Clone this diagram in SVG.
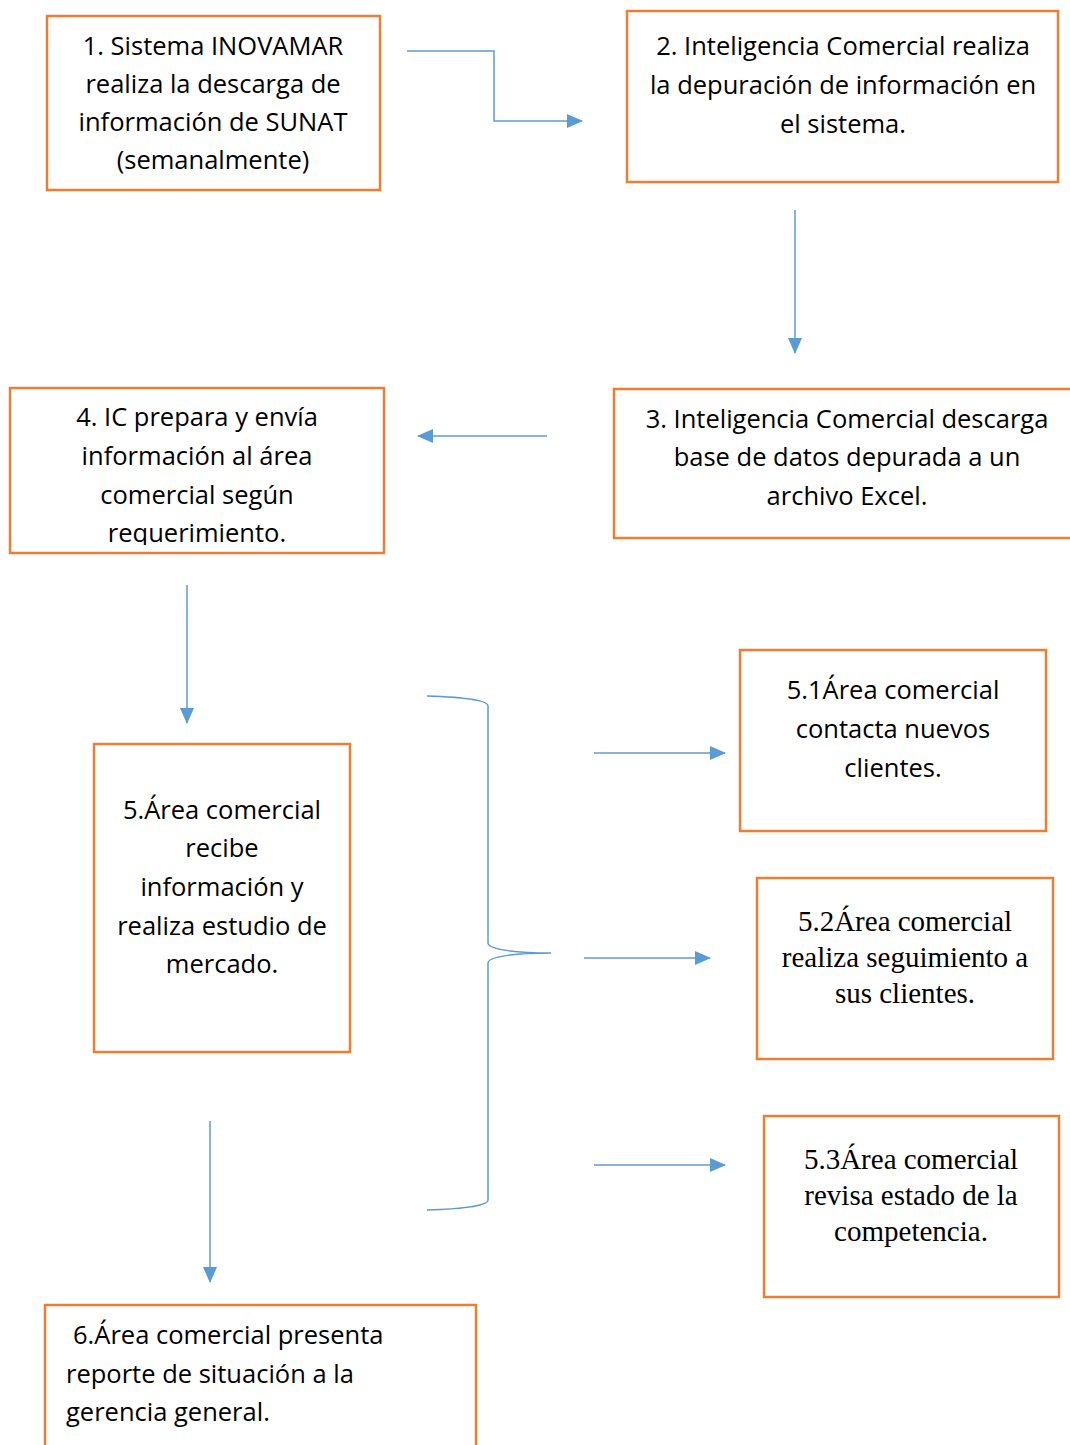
<svg xmlns="http://www.w3.org/2000/svg" width="1070" height="1445" viewBox="0 0 1070 1445">
<style>
.box{fill:#fff;stroke:#ED7D31;stroke-width:2.5}
.t{font-family:"Open Sans","Liberation Sans",sans-serif;font-size:25.5px;fill:#000;text-anchor:middle}
.tl{text-anchor:start}
.s{font-family:"Liberation Serif","Times New Roman",serif;font-size:29px;fill:#000;text-anchor:middle}
.c{fill:none;stroke:#5B9BD5;stroke-width:1.5}
</style>
<defs>
<marker id="a" viewBox="0 0 16 14" refX="15" refY="7" markerWidth="16" markerHeight="14" markerUnits="userSpaceOnUse" orient="auto">
<path d="M0,0 L16,7 L0,14 Z" fill="#5B9BD5"/>
</marker>
<clipPath id="c4"><rect x="10" y="388" width="374" height="157"/></clipPath>
</defs>
<g id="connectors">
<polyline class="c" points="407,51 494,51 494,121 582,121" marker-end="url(#a)"/>
<line class="c" x1="795" y1="210" x2="795" y2="353" marker-end="url(#a)"/>
<line class="c" x1="547" y1="436" x2="418" y2="436" marker-end="url(#a)"/>
<line class="c" x1="187" y1="585" x2="187" y2="723" marker-end="url(#a)"/>
<line class="c" x1="210" y1="1121" x2="210" y2="1282" marker-end="url(#a)"/>
<path class="c" d="M427,696 C460,697 488,700 488,706 L488,943 C488,950 520,953 551,953 C520,953 488,956 488,963 L488,1200 C488,1206 460,1209 427,1210"/>
<line class="c" x1="594" y1="753" x2="725" y2="753" marker-end="url(#a)"/>
<line class="c" x1="584" y1="958" x2="710" y2="958" marker-end="url(#a)"/>
<line class="c" x1="594" y1="1165" x2="725" y2="1165" marker-end="url(#a)"/>
</g>
<g id="n1">
<rect class="box" x="47" y="16" width="333" height="174"/>
<text class="t" x="213" y="55">1. Sistema INOVAMAR</text>
<text class="t" x="213" y="93">realiza la descarga de</text>
<text class="t" x="213" y="131">información de SUNAT</text>
<text class="t" x="213" y="169">(semanalmente)</text>
</g>
<g id="n2">
<rect class="box" x="627" y="11" width="431" height="171"/>
<text class="t" x="843" y="55">2. Inteligencia Comercial realiza</text>
<text class="t" x="843" y="94">la depuración de información en</text>
<text class="t" x="843" y="133">el sistema.</text>
</g>
<g id="n3">
<rect class="box" x="614" y="389" width="470" height="149"/>
<text class="t" x="847" y="428">3. Inteligencia Comercial descarga</text>
<text class="t" x="847" y="466">base de datos depurada a un</text>
<text class="t" x="847" y="505">archivo Excel.</text>
</g>
<g id="n4">
<rect class="box" x="10" y="388" width="374" height="165"/>
<g clip-path="url(#c4)">
<text class="t" x="197" y="426">4. IC prepara y envía</text>
<text class="t" x="197" y="465">información al área</text>
<text class="t" x="197" y="504">comercial según</text>
<text class="t" x="197" y="542">requerimiento.</text>
</g>
</g>
<g id="n5">
<rect class="box" x="94" y="744" width="256" height="308"/>
<text class="t" x="222" y="819">5.Área comercial</text>
<text class="t" x="222" y="857">recibe</text>
<text class="t" x="222" y="896">información y</text>
<text class="t" x="222" y="935">realiza estudio de</text>
<text class="t" x="222" y="973">mercado.</text>
</g>
<g id="n51">
<rect class="box" x="740" y="650" width="306" height="181"/>
<text class="t" x="893" y="699">5.1Área comercial</text>
<text class="t" x="893" y="738">contacta nuevos</text>
<text class="t" x="893" y="777">clientes.</text>
</g>
<g id="n52">
<rect class="box" x="757" y="878" width="296" height="181"/>
<text class="s" x="905" y="931">5.2Área comercial</text>
<text class="s" x="905" y="967">realiza seguimiento a</text>
<text class="s" x="905" y="1003">sus clientes.</text>
</g>
<g id="n53">
<rect class="box" x="764" y="1116" width="295" height="181"/>
<text class="s" x="911" y="1169">5.3Área comercial</text>
<text class="s" x="911" y="1205">revisa estado de la</text>
<text class="s" x="911" y="1241">competencia.</text>
</g>
<g id="n6">
<rect class="box" x="45" y="1305" width="431" height="160"/>
<text class="t tl" x="73" y="1344">6.Área comercial presenta</text>
<text class="t tl" x="66" y="1383">reporte de situación a la</text>
<text class="t tl" x="66" y="1421">gerencia general.</text>
</g>
</svg>
